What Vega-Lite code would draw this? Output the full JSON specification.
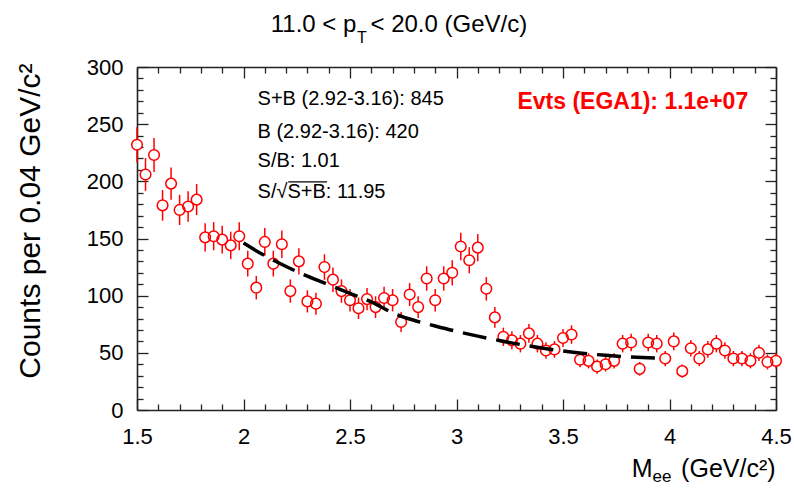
{
  "$schema": "https://vega.github.io/schema/vega-lite/v6.json",
  "width": 639,
  "height": 343,
  "autosize": "none",
  "padding": {"left": 137, "top": 67, "right": 18, "bottom": 78},
  "background": "white",
  "config": {"view": {"stroke": null}, "font": "Liberation Sans"},
  "datasets": {
    "hist": [
      {"m": 1.50, "n": 232, "err": 15.2}, {"m": 1.54, "n": 206, "err": 14.4}, {"m": 1.58, "n": 223, "err": 14.9},
      {"m": 1.62, "n": 179, "err": 13.4}, {"m": 1.66, "n": 198, "err": 14.1}, {"m": 1.70, "n": 175, "err": 13.2},
      {"m": 1.74, "n": 178, "err": 13.3}, {"m": 1.78, "n": 184, "err": 13.6}, {"m": 1.82, "n": 151, "err": 12.3},
      {"m": 1.86, "n": 152, "err": 12.3}, {"m": 1.90, "n": 149, "err": 12.2}, {"m": 1.94, "n": 144, "err": 12.0},
      {"m": 1.98, "n": 152, "err": 12.3}, {"m": 2.02, "n": 128, "err": 11.3}, {"m": 2.06, "n": 107, "err": 10.3},
      {"m": 2.10, "n": 147, "err": 12.1}, {"m": 2.14, "n": 128, "err": 11.3}, {"m": 2.18, "n": 145, "err": 12.0},
      {"m": 2.22, "n": 104, "err": 10.2}, {"m": 2.26, "n": 130, "err": 11.4}, {"m": 2.30, "n": 95, "err": 9.7},
      {"m": 2.34, "n": 93, "err": 9.6}, {"m": 2.38, "n": 125, "err": 11.2}, {"m": 2.42, "n": 114, "err": 10.7},
      {"m": 2.46, "n": 104, "err": 10.2}, {"m": 2.50, "n": 96, "err": 9.8}, {"m": 2.54, "n": 89, "err": 9.4},
      {"m": 2.58, "n": 97, "err": 9.8}, {"m": 2.62, "n": 90, "err": 9.5}, {"m": 2.66, "n": 98, "err": 9.9},
      {"m": 2.70, "n": 96, "err": 9.8}, {"m": 2.74, "n": 77, "err": 8.8}, {"m": 2.78, "n": 101, "err": 10.0},
      {"m": 2.82, "n": 90, "err": 9.5}, {"m": 2.86, "n": 115, "err": 10.7}, {"m": 2.90, "n": 96, "err": 9.8},
      {"m": 2.94, "n": 115, "err": 10.7}, {"m": 2.98, "n": 120, "err": 11.0}, {"m": 3.02, "n": 143, "err": 12.0},
      {"m": 3.06, "n": 131, "err": 11.4}, {"m": 3.10, "n": 142, "err": 11.9}, {"m": 3.14, "n": 106, "err": 10.3},
      {"m": 3.18, "n": 81, "err": 9.0}, {"m": 3.22, "n": 64, "err": 8.0}, {"m": 3.26, "n": 61, "err": 7.8},
      {"m": 3.30, "n": 58, "err": 7.6}, {"m": 3.34, "n": 67, "err": 8.2}, {"m": 3.38, "n": 58, "err": 7.6},
      {"m": 3.42, "n": 52, "err": 7.2}, {"m": 3.46, "n": 53, "err": 7.3}, {"m": 3.50, "n": 63, "err": 7.9},
      {"m": 3.54, "n": 66, "err": 8.1}, {"m": 3.58, "n": 44, "err": 6.6}, {"m": 3.62, "n": 43, "err": 6.6},
      {"m": 3.66, "n": 38, "err": 6.2}, {"m": 3.70, "n": 40, "err": 6.3}, {"m": 3.74, "n": 43, "err": 6.6},
      {"m": 3.78, "n": 58, "err": 7.6}, {"m": 3.82, "n": 59, "err": 7.7}, {"m": 3.86, "n": 36, "err": 6.0},
      {"m": 3.90, "n": 59, "err": 7.7}, {"m": 3.94, "n": 58, "err": 7.6}, {"m": 3.98, "n": 45, "err": 6.7},
      {"m": 4.02, "n": 60, "err": 7.7}, {"m": 4.06, "n": 34, "err": 5.8}, {"m": 4.10, "n": 54, "err": 7.3},
      {"m": 4.14, "n": 45, "err": 6.7}, {"m": 4.18, "n": 53, "err": 7.3}, {"m": 4.22, "n": 58, "err": 7.6},
      {"m": 4.26, "n": 52, "err": 7.2}, {"m": 4.30, "n": 45, "err": 6.7}, {"m": 4.34, "n": 45, "err": 6.7},
      {"m": 4.38, "n": 43, "err": 6.6}, {"m": 4.42, "n": 50, "err": 7.1}, {"m": 4.46, "n": 42, "err": 6.5},
      {"m": 4.50, "n": 43, "err": 6.6}
    ],
    "fit": [
      {"m": 2.0, "f": 146}, {"m": 2.1, "f": 135}, {"m": 2.2, "f": 125.5}, {"m": 2.3, "f": 117},
      {"m": 2.4, "f": 109.5}, {"m": 2.5, "f": 102}, {"m": 2.6, "f": 94.5}, {"m": 2.7, "f": 85},
      {"m": 2.8, "f": 78.5}, {"m": 2.9, "f": 73.5}, {"m": 3.0, "f": 68.8}, {"m": 3.1, "f": 64.6},
      {"m": 3.2, "f": 60.8}, {"m": 3.3, "f": 57.3}, {"m": 3.4, "f": 54.2}, {"m": 3.5, "f": 51.6},
      {"m": 3.6, "f": 49.5}, {"m": 3.7, "f": 47.8}, {"m": 3.8, "f": 46.5}, {"m": 3.9, "f": 45.6},
      {"m": 3.97, "f": 45.2}
    ]
  },
  "layer": [
    {
      "data": {"name": "hist"},
      "mark": {"type": "errorbar", "color": "#ff0000", "thickness": 1.5},
      "encoding": {
        "x": {
          "field": "m", "type": "quantitative",
          "scale": {"domain": [1.5, 4.5], "nice": false, "zero": false},
          "axis": {
            "orient": "bottom",
            "values": [1.5,1.6,1.7,1.8,1.9,2.0,2.1,2.2,2.3,2.4,2.5,2.6,2.7,2.8,2.9,3.0,3.1,3.2,3.3,3.4,3.5,3.6,3.7,3.8,3.9,4.0,4.1,4.2,4.3,4.4,4.5],
            "labelExpr": "abs(datum.value*2-round(datum.value*2))<0.001 ? ''+datum.value : ''",
            "tickSize": {"condition": {"test": "abs(datum.value*2-round(datum.value*2))<0.001", "value": -11}, "value": -6},
            "labelPadding": 27,
            "labelFont": "Liberation Sans", "labelFontSize": 22, "labelColor": "black",
            "labelOverlap": false, "labelFlush": false, "labelBound": false,
            "tickColor": "#222", "tickWidth": 1.3, "domainColor": "#222", "domainWidth": 1.6,
            "grid": false,
            "title": null
          }
        },
        "y": {
          "field": "n", "type": "quantitative",
          "scale": {"domain": [0, 300], "nice": false},
          "axis": {
            "orient": "left",
            "values": [0,10,20,30,40,50,60,70,80,90,100,110,120,130,140,150,160,170,180,190,200,210,220,230,240,250,260,270,280,290,300],
            "labelExpr": "datum.value % 50 === 0 ? ''+datum.value : ''",
            "tickSize": {"condition": {"test": "datum.value % 50 === 0", "value": -11}, "value": -6},
            "labelPadding": 25,
            "labelFont": "Liberation Sans", "labelFontSize": 22, "labelColor": "black",
            "labelOverlap": false, "labelFlush": false, "labelBound": false,
            "tickColor": "#222", "tickWidth": 1.3, "domainColor": "#222", "domainWidth": 1.6,
            "grid": false,
            "title": "Counts per 0.04 GeV/c²", "titleFont": "Liberation Sans", "titleFontSize": 30, "titleFontWeight": "normal", "titleColor": "black",
            "titleX": -92, "titleY": -4, "titleAngle": -90, "titleAlign": "right", "titleBaseline": "bottom", "titleAnchor": "end"
          }
        },
        "yError": {"field": "err"}
      }
    },
    {
      "data": {"name": "hist"},
      "mark": {"type": "point", "shape": "circle", "filled": true, "fill": "white", "fillOpacity": 1, "strokeWidth": 0, "size": 113},
      "encoding": {
        "x": {"field": "m", "type": "quantitative", "axis": null},
        "y": {"field": "n", "type": "quantitative", "axis": null}
      }
    },
    {
      "data": {"name": "hist"},
      "mark": {"type": "point", "shape": "circle", "filled": false, "stroke": "#ff0000", "strokeWidth": 1.5, "size": 113, "opacity": 1},
      "encoding": {
        "x": {
          "field": "m", "type": "quantitative",
          "axis": {
            "orient": "top",
            "values": [1.5,1.6,1.7,1.8,1.9,2.0,2.1,2.2,2.3,2.4,2.5,2.6,2.7,2.8,2.9,3.0,3.1,3.2,3.3,3.4,3.5,3.6,3.7,3.8,3.9,4.0,4.1,4.2,4.3,4.4,4.5],
            "labels": false, "title": null, "grid": false,
            "tickSize": {"condition": {"test": "abs(datum.value*2-round(datum.value*2))<0.001", "value": -11}, "value": -6},
            "tickColor": "#222", "tickWidth": 1.3, "domainColor": "#222", "domainWidth": 1.6
          }
        },
        "y": {
          "field": "n", "type": "quantitative",
          "axis": {
            "orient": "right",
            "values": [0,10,20,30,40,50,60,70,80,90,100,110,120,130,140,150,160,170,180,190,200,210,220,230,240,250,260,270,280,290,300],
            "labels": false, "title": null, "grid": false,
            "tickSize": {"condition": {"test": "datum.value % 50 === 0", "value": -11}, "value": -6},
            "tickColor": "#222", "tickWidth": 1.3, "domainColor": "#222", "domainWidth": 1.6
          }
        }
      }
    },
    {
      "data": {"name": "fit"},
      "mark": {"type": "line", "color": "black", "strokeWidth": 3.5, "strokeDash": [24, 10], "interpolate": "monotone"},
      "encoding": {
        "x": {"field": "m", "type": "quantitative", "axis": null},
        "y": {"field": "f", "type": "quantitative", "axis": null}
      }
    },
    {
      "data": {"values": [{}]},
      "mark": {"type": "text", "text": "S+B (2.92-3.16): 845", "align": "left", "baseline": "alphabetic", "font": "Liberation Sans", "fontSize": 20, "color": "black"},
      "encoding": {"x": {"datum": 2.066, "axis": null}, "y": {"datum": 267, "axis": null}}
    },
    {
      "data": {"values": [{}]},
      "mark": {"type": "text", "text": "B (2.92-3.16): 420", "align": "left", "baseline": "alphabetic", "font": "Liberation Sans", "fontSize": 20, "color": "black"},
      "encoding": {"x": {"datum": 2.066, "axis": null}, "y": {"datum": 238, "axis": null}}
    },
    {
      "data": {"values": [{}]},
      "mark": {"type": "text", "text": "S/B: 1.01", "align": "left", "baseline": "alphabetic", "font": "Liberation Sans", "fontSize": 20, "color": "black"},
      "encoding": {"x": {"datum": 2.066, "axis": null}, "y": {"datum": 212.5, "axis": null}}
    },
    {
      "data": {"values": [{}]},
      "mark": {"type": "text", "text": "S/√S+B: 11.95", "align": "left", "baseline": "alphabetic", "font": "Liberation Sans", "fontSize": 20, "color": "black"},
      "encoding": {"x": {"datum": 2.066, "axis": null}, "y": {"datum": 185.5, "axis": null}}
    },
    {
      "data": {"values": [{}]},
      "mark": {"type": "rule", "color": "black", "strokeWidth": 1.2},
      "encoding": {"x": {"datum": 2.21, "axis": null}, "x2": {"datum": 2.392}, "y": {"datum": 199.6, "axis": null}}
    },
    {
      "data": {"values": [{}]},
      "mark": {"type": "text", "text": "Evts (EGA1): 1.1e+07", "align": "left", "baseline": "alphabetic", "font": "Liberation Sans", "fontSize": 23, "fontWeight": "bold", "color": "#ff0000"},
      "encoding": {"x": {"datum": 3.286, "axis": null}, "y": {"datum": 263.3, "axis": null}}
    },
    {
      "data": {"values": [{}]},
      "mark": {"type": "text", "text": "11.0 < p", "align": "right", "baseline": "alphabetic", "font": "Liberation Sans", "fontSize": 24, "color": "black"},
      "encoding": {"x": {"datum": 2.53, "axis": null}, "y": {"datum": 330.7, "axis": null}}
    },
    {
      "data": {"values": [{}]},
      "mark": {"type": "text", "text": "T", "align": "left", "baseline": "alphabetic", "font": "Liberation Sans", "fontSize": 16, "color": "black"},
      "encoding": {"x": {"datum": 2.533, "axis": null}, "y": {"datum": 321, "axis": null}}
    },
    {
      "data": {"values": [{}]},
      "mark": {"type": "text", "text": "< 20.0 (GeV/c)", "align": "left", "baseline": "alphabetic", "font": "Liberation Sans", "fontSize": 24, "color": "black"},
      "encoding": {"x": {"datum": 2.596, "axis": null}, "y": {"datum": 330.7, "axis": null}}
    },
    {
      "data": {"values": [{}]},
      "mark": {"type": "text", "text": "M", "align": "right", "baseline": "alphabetic", "font": "Liberation Sans", "fontSize": 25, "color": "black"},
      "encoding": {"x": {"datum": 3.92, "axis": null}, "y": {"datum": -58.6, "axis": null}}
    },
    {
      "data": {"values": [{}]},
      "mark": {"type": "text", "text": "ee", "align": "right", "baseline": "alphabetic", "font": "Liberation Sans", "fontSize": 17, "color": "black"},
      "encoding": {"x": {"datum": 4.009, "axis": null}, "y": {"datum": -63, "axis": null}}
    },
    {
      "data": {"values": [{}]},
      "mark": {"type": "text", "text": " (GeV/c²)", "align": "right", "baseline": "alphabetic", "font": "Liberation Sans", "fontSize": 25, "color": "black"},
      "encoding": {"x": {"datum": 4.498, "axis": null}, "y": {"datum": -58.6, "axis": null}}
    }
  ],
  "resolve": {"axis": {"x": "independent", "y": "independent"}}
}
